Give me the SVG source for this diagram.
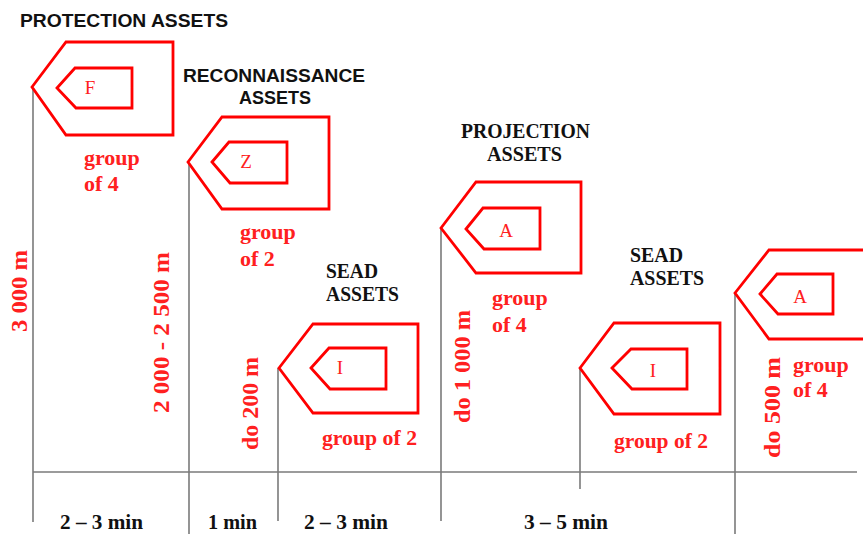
<svg xmlns="http://www.w3.org/2000/svg" width="863" height="534" viewBox="0 0 863 534">
<style>
.sh{fill:none;stroke:#ff0000;stroke-width:2.8;stroke-linejoin:miter}
.ln{stroke:#7a7a7a;stroke-width:1.6;fill:none}
.hs{font-family:"Liberation Sans",Arial,sans-serif;font-weight:bold;font-size:18px;fill:#111}
.ht{font-family:"Liberation Serif","Times New Roman",serif;font-weight:bold;font-size:20px;fill:#111}
.lt{font-family:"Liberation Serif","Times New Roman",serif;font-size:19px;fill:#ff2020;text-anchor:middle}
.gr{font-family:"Liberation Serif","Times New Roman",serif;font-weight:bold;font-size:22px;fill:#ff2020}
.vt{font-family:"Liberation Serif","Times New Roman",serif;font-weight:bold;font-size:24px;fill:#ff2020;text-anchor:middle}
.tm{font-family:"Liberation Serif","Times New Roman",serif;font-weight:bold;font-size:20px;fill:#111}
</style>
<rect width="863" height="534" fill="#fff"/>
<g id="connectors">
<line class="ln" x1="33" y1="472" x2="857" y2="472"/>
<line class="ln" x1="33" y1="88" x2="33" y2="522"/>
<line class="ln" x1="189" y1="163" x2="189" y2="534"/>
<line class="ln" x1="278" y1="368" x2="278" y2="521"/>
<line class="ln" x1="441" y1="229" x2="441" y2="521"/>
<line class="ln" x1="580" y1="368" x2="580" y2="489"/>
<line class="ln" x1="735" y1="294" x2="735" y2="534"/>
</g>
<g id="node-protection">
<polygon class="sh" points="32,87 66,42 173,42 173,135 66,135"/>
<polygon class="sh" points="57,88 75,68 132,68 132,108 76,108"/>
<text class="lt" x="90" y="94">F</text>
<text class="hs" x="20" y="26.5" textLength="208" lengthAdjust="spacingAndGlyphs">PROTECTION ASSETS</text>
<text class="gr" x="84" y="165">group</text>
<text class="gr" x="84" y="191">of 4</text>
</g>
<g id="node-reconnaissance">
<polygon class="sh" points="188,162 222,117 329,117 329,209 222,209"/>
<polygon class="sh" points="212,162 229,142 287,142 287,183 230,183"/>
<text class="lt" x="246" y="168">Z</text>
<text class="hs" x="183" y="81.5" textLength="182" lengthAdjust="spacingAndGlyphs">RECONNAISSANCE</text>
<text class="hs" x="239" y="103.5" textLength="72" lengthAdjust="spacingAndGlyphs">ASSETS</text>
<text class="gr" x="240" y="239">group</text>
<text class="gr" x="240" y="266">of 2</text>
</g>
<g id="node-sead-1">
<polygon class="sh" points="279,368 313,324 418,324 418,413 313,413"/>
<polygon class="sh" points="311,368 329,348 386,348 386,389 330,389"/>
<text class="lt" x="340" y="374">I</text>
<text class="ht" x="326" y="278" textLength="52" lengthAdjust="spacingAndGlyphs">SEAD</text>
<text class="ht" x="326" y="301" textLength="73" lengthAdjust="spacingAndGlyphs">ASSETS</text>
<text class="gr" x="322" y="445" textLength="95" lengthAdjust="spacingAndGlyphs">group of 2</text>
</g>
<g id="node-projection">
<polygon class="sh" points="441,228 476,182 581,182 581,273 476,273"/>
<polygon class="sh" points="466,229 483,208 540,208 540,249 484,249"/>
<text class="lt" x="506" y="237">A</text>
<text class="ht" x="461" y="138" textLength="129" lengthAdjust="spacingAndGlyphs">PROJECTION</text>
<text class="ht" x="487" y="161" textLength="75" lengthAdjust="spacingAndGlyphs">ASSETS</text>
<text class="gr" x="492" y="305">group</text>
<text class="gr" x="492" y="332">of 4</text>
</g>
<g id="node-sead-2">
<polygon class="sh" points="580,368 614,323 720,323 720,414 614,414"/>
<polygon class="sh" points="612,368 631,349 687,349 687,389 632,389"/>
<text class="lt" x="653" y="377">I</text>
<text class="ht" x="630" y="262" textLength="53" lengthAdjust="spacingAndGlyphs">SEAD</text>
<text class="ht" x="630" y="285" textLength="74" lengthAdjust="spacingAndGlyphs">ASSETS</text>
<text class="gr" x="614" y="448" textLength="94" lengthAdjust="spacingAndGlyphs">group of 2</text>
</g>
<g id="node-projection-2">
<polygon class="sh" points="735,293 769,250 880,250 880,339 769,339"/>
<polygon class="sh" points="760,294 777,274 833,274 833,314 778,314"/>
<text class="lt" x="800" y="303">A</text>
<text class="gr" x="793" y="372">group</text>
<text class="gr" x="793" y="397">of 4</text>
</g>
<g id="distances">
<text class="vt" transform="translate(27,291) rotate(-90)" textLength="82" lengthAdjust="spacingAndGlyphs">3 000 m</text>
<text class="vt" transform="translate(169,332.5) rotate(-90)" textLength="161" lengthAdjust="spacingAndGlyphs">2 000 - 2 500 m</text>
<text class="vt" transform="translate(258,403.5) rotate(-90)" textLength="93" lengthAdjust="spacingAndGlyphs">do 200 m</text>
<text class="vt" transform="translate(470,366.5) rotate(-90)" textLength="113" lengthAdjust="spacingAndGlyphs">do 1 000 m</text>
<text class="vt" transform="translate(780,407.5) rotate(-90)" textLength="101" lengthAdjust="spacingAndGlyphs">do 500 m</text>
</g>
<g id="times">
<text class="tm" x="60" y="529" textLength="83" lengthAdjust="spacingAndGlyphs">2 – 3 min</text>
<text class="tm" x="208" y="529" textLength="49" lengthAdjust="spacingAndGlyphs">1 min</text>
<text class="tm" x="304" y="529" textLength="84" lengthAdjust="spacingAndGlyphs">2 – 3 min</text>
<text class="tm" x="524" y="529" textLength="84" lengthAdjust="spacingAndGlyphs">3 – 5 min</text>
</g>
</svg>
